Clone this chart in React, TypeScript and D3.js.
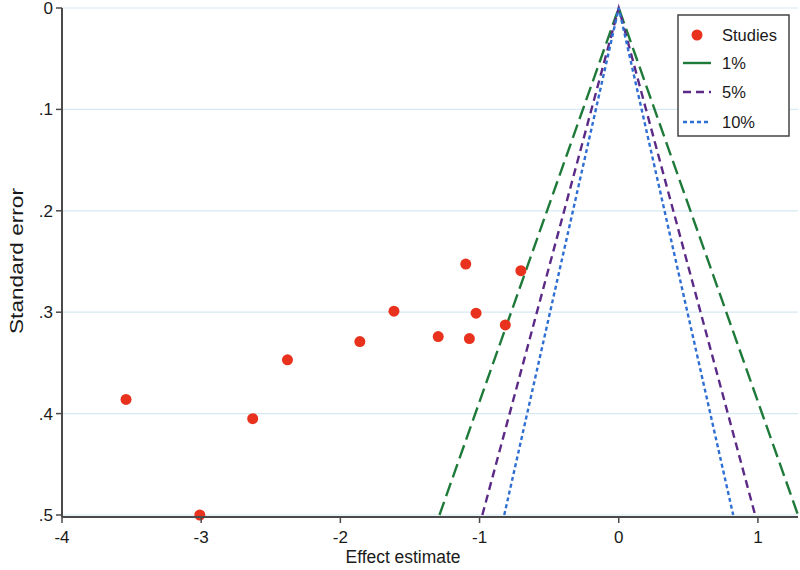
import React from "react";
import * as d3 from "d3";

const effects = [-3.54, -3.01, -2.63, -2.38, -1.86, -1.615, -1.297, -1.099, -1.025, -1.073, -0.815, -0.703];
const stdErrors = [0.386, 0.5, 0.405, 0.347, 0.329, 0.299, 0.324, 0.2525, 0.301, 0.326, 0.3126, 0.259];
const xTicks = [-4, -3, -2, -1, 0, 1];
const yTicks = [0, 0.1, 0.2, 0.3, 0.4, 0.5];
const yTickLabels = ["0", ".1", ".2", ".3", ".4", ".5"];
const limitNames = ["1%", "5%", "10%"];
const limitZ = [2.576, 1.96, 1.645];
const limitColors = ["#1f7a3a", "#5b2a86", "#2f6fd2"];
const limitDashes = ["14,6", "8,5", "4,3"];
const seMax = 0.5;

export default function App() {
  const W = 800, H = 570;
  const left = 62, right = 798, top = 8, bottom = 515;
  const x = d3.scaleLinear().domain([-4, limitZ[0] * seMax]).range([left, right]);
  const y = d3.scaleLinear().domain([0, seMax]).range([top, bottom]);
  const line = d3.line<[number, number]>().x(d => x(d[0])).y(d => y(d[1]));
  const font = "Liberation Sans, Arial, sans-serif";
  const legX = 678, legY = 15, legW = 111, legH = 121;
  const legRows = [35, 63, 92, 122];
  const txt = "#1a1a1a";
  return (
    <svg width={W} height={H} style={{ position: "absolute", left: 0, top: 0, background: "#fff" }} fontFamily={font}>
      {yTicks.map((t, i) => (
        <line key={"g" + i} x1={left} x2={right} y1={y(t)} y2={y(t)} stroke="#d6e9f2" strokeWidth={1.2} />
      ))}
      {limitZ.map((z, i) => (
        <g key={"f" + i}>
          <path d={line([[-z * seMax, seMax], [0, 0], [z * seMax, seMax]]) || ""} fill="none"
            stroke={limitColors[i]} strokeWidth={2.4} strokeDasharray={limitDashes[i]} />
        </g>
      ))}
      {effects.map((e, i) => (
        <circle key={"p" + i} cx={x(e)} cy={y(stdErrors[i])} r={5.5} fill="#e8321e" />
      ))}
      <line x1={left} x2={left} y1={top} y2={bottom + 2} stroke="#4a4a4a" strokeWidth={2} />
      <line x1={left} x2={right} y1={bottom + 2} y2={bottom + 2} stroke="#4a4a4a" strokeWidth={2} />
      {yTicks.map((t, i) => (
        <g key={"yt" + i}>
          <line x1={left - 6} x2={left} y1={y(t)} y2={y(t)} stroke="#4a4a4a" strokeWidth={1.5} />
          <text x={left - 9} y={y(t) + 6} textAnchor="end" fontSize={17} fill={txt}>{yTickLabels[i]}</text>
        </g>
      ))}
      {xTicks.map((t, i) => (
        <g key={"xt" + i}>
          <line x1={x(t)} x2={x(t)} y1={bottom + 2} y2={bottom + 8} stroke="#4a4a4a" strokeWidth={1.5} />
          <text x={x(t)} y={bottom + 28} textAnchor="middle" fontSize={17} fill={txt}>{t}</text>
        </g>
      ))}
      <text x={403} y={563} textAnchor="middle" fontSize={18} fill={txt} textLength={115} lengthAdjust="spacingAndGlyphs">Effect estimate</text>
      <text transform={`translate(23,261) rotate(-90)`} textAnchor="middle" fontSize={18} fill={txt} textLength={146} lengthAdjust="spacingAndGlyphs">Standard error</text>
      <rect x={legX} y={legY} width={legW} height={legH} fill="#fff" stroke="#444" strokeWidth={1.5} />
      <circle cx={697} cy={legRows[0]} r={5.5} fill="#e8321e" />
      <text x={722} y={legRows[0] + 6} fontSize={16.5} fill={txt}>Studies</text>
      {limitNames.map((n, i) => (
        <g key={"l" + i}>
          <line x1={683} x2={711} y1={legRows[i + 1]} y2={legRows[i + 1]} stroke={limitColors[i]}
            strokeWidth={2.4} strokeDasharray={i === 0 ? "none" : limitDashes[i]} />
          <text x={722} y={legRows[i + 1] + 6} fontSize={16.5} fill={txt}>{n}</text>
        </g>
      ))}
    </svg>
  );
}
